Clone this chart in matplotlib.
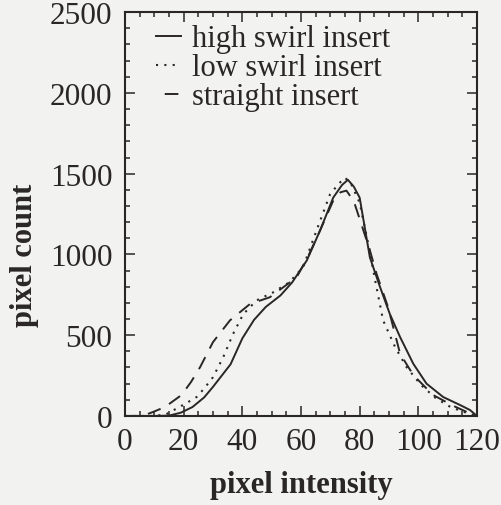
import matplotlib
matplotlib.use("Agg")
import matplotlib.pyplot as plt
from matplotlib.ticker import MultipleLocator

plt.rcParams['font.family'] = ['Liberation Serif', 'DejaVu Serif']

# high swirl insert (solid)
high_x = [0, 10, 15, 19, 23, 27, 30, 33, 36, 40, 44, 48, 53, 57, 62, 66.5, 71, 74, 76, 78, 80,
          83.5, 87, 90.3, 93.8, 98.3, 102.8, 108.5, 114.2, 117.6, 120]
high_y = [0, 0, 2, 20, 55, 115, 180, 250, 320, 480, 595, 675, 746, 827, 963, 1148, 1352, 1430, 1462, 1420, 1352,
          981, 796, 631, 488, 323, 200, 117, 68, 37, 0]

# low swirl insert (dotted)
low_x = [0, 10, 14, 17, 21, 24.4, 27, 30, 33.5, 36.8, 40.3, 44.9, 50.5, 56, 60.7, 65.3, 69.9, 73, 75, 77, 80,
         83, 85.5, 88, 92, 96, 101, 106, 111, 115, 118, 120]
low_y = [0, 0, 10, 40, 80, 117, 170, 240, 364, 506, 630, 716, 765, 827, 920, 1148, 1372, 1440, 1475, 1440, 1320,
         1060, 820, 592, 430, 302, 190, 110, 55, 28, 10, 0]

# straight insert (dashed)
str_x = [0, 6, 9.6, 13.6, 19.3, 22.5, 25.6, 30, 35.8, 42.6, 49.4, 58.5, 62.5, 66.5, 71, 73.5, 75.5, 78, 80,
         83.5, 85.8, 89.7, 93.8, 98.3, 105, 112, 116.5, 120]
str_y = [0, 0, 25, 55, 130, 210, 302, 457, 592, 693, 735, 858, 990, 1148, 1333, 1385, 1395, 1330, 1220,
         1025, 878, 673, 385, 253, 130, 62, 25, 0]

labels = ['high swirl insert', 'low swirl insert', 'straight insert']

ink = '#2a2626'
bg = '#f2f3f1'

fig = plt.figure(figsize=(5.01, 5.06), dpi=100, facecolor=bg)
ax = fig.add_axes([0.2495, 0.176, 0.7025, 0.798])
ax.set_facecolor(bg)

ax.plot(high_x, high_y, color=ink, lw=1.4, ls='-', label=labels[0])
ax.plot(low_x, low_y, color=ink, lw=1.5, ls=(0, (1, 3)), label=labels[1])
ax.plot(str_x, str_y, color=ink, lw=1.4, ls=(0, (7, 5)), label=labels[2])

ax.set_xlim(0, 120)
ax.set_ylim(0, 2500)
ax.xaxis.set_major_locator(MultipleLocator(20))
ax.xaxis.set_minor_locator(MultipleLocator(5))
ax.yaxis.set_major_locator(MultipleLocator(500))
ax.yaxis.set_minor_locator(MultipleLocator(100))
ax.tick_params(which='both', direction='in', top=True, right=True, colors=ink,
               labelsize=22.5, width=1.1)
ax.tick_params(which='major', length=7)
ax.tick_params(which='minor', length=3.5)
ax.tick_params(axis='x', which='major', pad=8)
ax.tick_params(axis='y', which='major', pad=9)
for s in ax.spines.values():
    s.set_linewidth(1.5)
    s.set_color(ink)

ax.set_xlabel('pixel intensity', fontsize=22, fontweight='bold', color=ink, labelpad=10)
ax.set_ylabel('pixel count', fontsize=22, fontweight='bold', color=ink)
ax.yaxis.set_label_coords(-0.245, 0.40)

leg = ax.legend(loc='upper left', frameon=False, fontsize=22, handlelength=0.82,
                handletextpad=0.35, labelspacing=0.0, borderaxespad=0.0,
                bbox_to_anchor=(0.053, 1.0))
for t in leg.get_texts():
    t.set_color(ink)
# short single dash for the straight-insert key
leg.get_lines()[2].set_linestyle((22.5, (7, 20)))

fig.savefig('out.png', dpi=100, facecolor=bg)
